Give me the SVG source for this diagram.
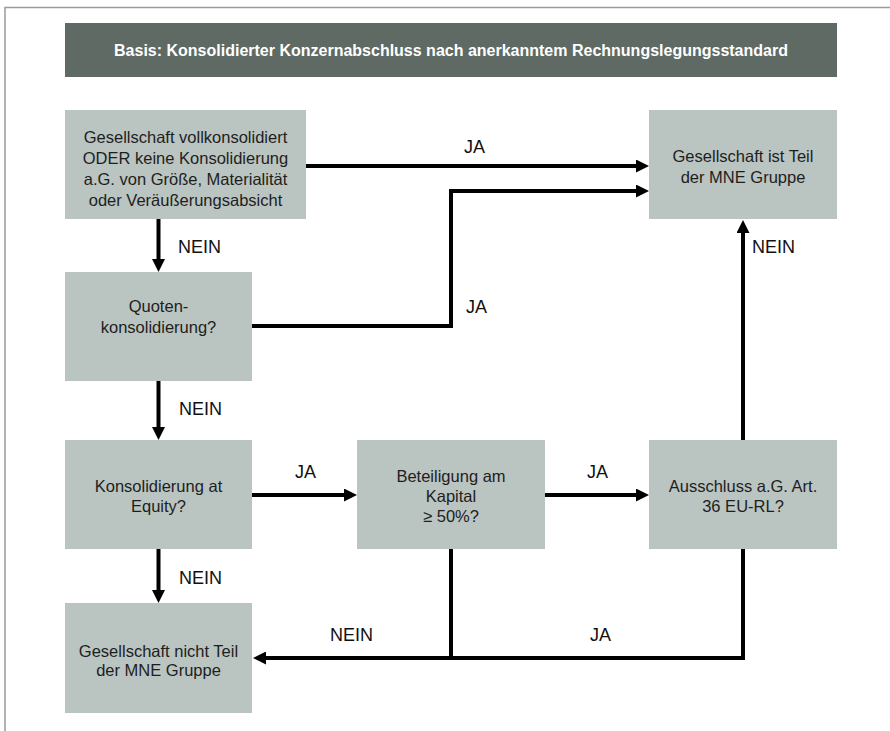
<svg xmlns="http://www.w3.org/2000/svg" width="890" height="731" viewBox="0 0 890 731">
  <style>
    .frame { fill: none; stroke: #9a9a9a; stroke-width: 1.5; }
    .head { fill: #5e6a63; }
    .head-text { font-family: "Liberation Sans", Arial, sans-serif; font-weight: bold; font-size: 16px; fill: #ffffff; text-anchor: middle; }
    .box { fill: #bac4c0; }
    .box-text { font-family: "Liberation Sans", Arial, sans-serif; font-size: 16.5px; fill: #1e1e1e; text-anchor: middle; }
    .edge { fill: none; stroke: #000000; stroke-width: 4; stroke-linejoin: miter; }
    .label { font-family: "Liberation Sans", Arial, sans-serif; font-size: 18px; fill: #111111; }
  </style>
  <defs>
    <marker id="arrow" viewBox="0 0 13 13" markerUnits="userSpaceOnUse" markerWidth="13" markerHeight="13" refX="1" refY="6.5" orient="auto">
      <path d="M0,0 L13,6.5 L0,13 z" fill="#000000"/>
    </marker>
  </defs>

  <rect width="890" height="731" fill="#ffffff"/>
  <!-- page frame: top and left rules only -->
  <path class="frame" d="M5,731 V7.5 H890"/>

  <!-- title bar -->
  <g id="title">
    <rect class="head" x="65" y="23" width="772" height="54"/>
    <text class="head-text" x="451" y="56">Basis: Konsolidierter Konzernabschluss nach anerkanntem Rechnungslegungsstandard</text>
  </g>

  <!-- decision and result nodes -->
  <g id="vollkonsolidiert">
    <rect class="box" x="65" y="110" width="241" height="109"/>
    <text class="box-text" x="185.5" y="143">Gesellschaft vollkonsolidiert</text>
    <text class="box-text" x="185.5" y="164">ODER keine Konsolidierung</text>
    <text class="box-text" x="185.5" y="185">a.G. von Größe, Materialität</text>
    <text class="box-text" x="185.5" y="206">oder Veräußerungsabsicht</text>
  </g>

  <g id="teil-der-gruppe">
    <rect class="box" x="649" y="110" width="188" height="109"/>
    <text class="box-text" x="743" y="162">Gesellschaft ist Teil</text>
    <text class="box-text" x="743" y="183">der MNE Gruppe</text>
  </g>

  <g id="quotenkonsolidierung">
    <rect class="box" x="65" y="272" width="187" height="109"/>
    <text class="box-text" x="158.5" y="312">Quoten-</text>
    <text class="box-text" x="158.5" y="333">konsolidierung?</text>
  </g>

  <g id="at-equity">
    <rect class="box" x="65" y="440" width="187" height="109"/>
    <text class="box-text" x="158.5" y="492">Konsolidierung at</text>
    <text class="box-text" x="158.5" y="512">Equity?</text>
  </g>

  <g id="beteiligung">
    <rect class="box" x="357" y="440" width="188" height="109"/>
    <text class="box-text" x="451" y="482">Beteiligung am</text>
    <text class="box-text" x="451" y="502">Kapital</text>
    <text class="box-text" x="451" y="522">≥ 50%?</text>
  </g>

  <g id="ausschluss">
    <rect class="box" x="649" y="440" width="188" height="109"/>
    <text class="box-text" x="743" y="492">Ausschluss a.G. Art.</text>
    <text class="box-text" x="743" y="512">36 EU-RL?</text>
  </g>

  <g id="nicht-teil">
    <rect class="box" x="65" y="603" width="187" height="110"/>
    <text class="box-text" x="158.5" y="657">Gesellschaft nicht Teil</text>
    <text class="box-text" x="158.5" y="676">der MNE Gruppe</text>
  </g>

  <!-- connectors -->
  <g id="connectors">
    <path class="edge" d="M306,166 H637" marker-end="url(#arrow)"/>
    <path class="edge" d="M158.5,219 V260" marker-end="url(#arrow)"/>
    <path class="edge" d="M252,326 H451 V191 H637" marker-end="url(#arrow)"/>
    <path class="edge" d="M158.5,381 V428" marker-end="url(#arrow)"/>
    <path class="edge" d="M252,495 H345" marker-end="url(#arrow)"/>
    <path class="edge" d="M545,495 H637" marker-end="url(#arrow)"/>
    <path class="edge" d="M158.5,549 V591" marker-end="url(#arrow)"/>
    <path class="edge" d="M743,440 V232" marker-end="url(#arrow)"/>
    <path class="edge" d="M451,549 V658 H265" marker-end="url(#arrow)"/>
    <path class="edge" d="M743,549 V658 H449"/>

    <text class="label" x="464" y="153">JA</text>
    <text class="label" x="178" y="253">NEIN</text>
    <text class="label" x="466" y="313">JA</text>
    <text class="label" x="179" y="415">NEIN</text>
    <text class="label" x="295" y="478">JA</text>
    <text class="label" x="587" y="478">JA</text>
    <text class="label" x="752" y="253">NEIN</text>
    <text class="label" x="179" y="584">NEIN</text>
    <text class="label" x="330" y="641">NEIN</text>
    <text class="label" x="590" y="641">JA</text>
  </g>
</svg>
